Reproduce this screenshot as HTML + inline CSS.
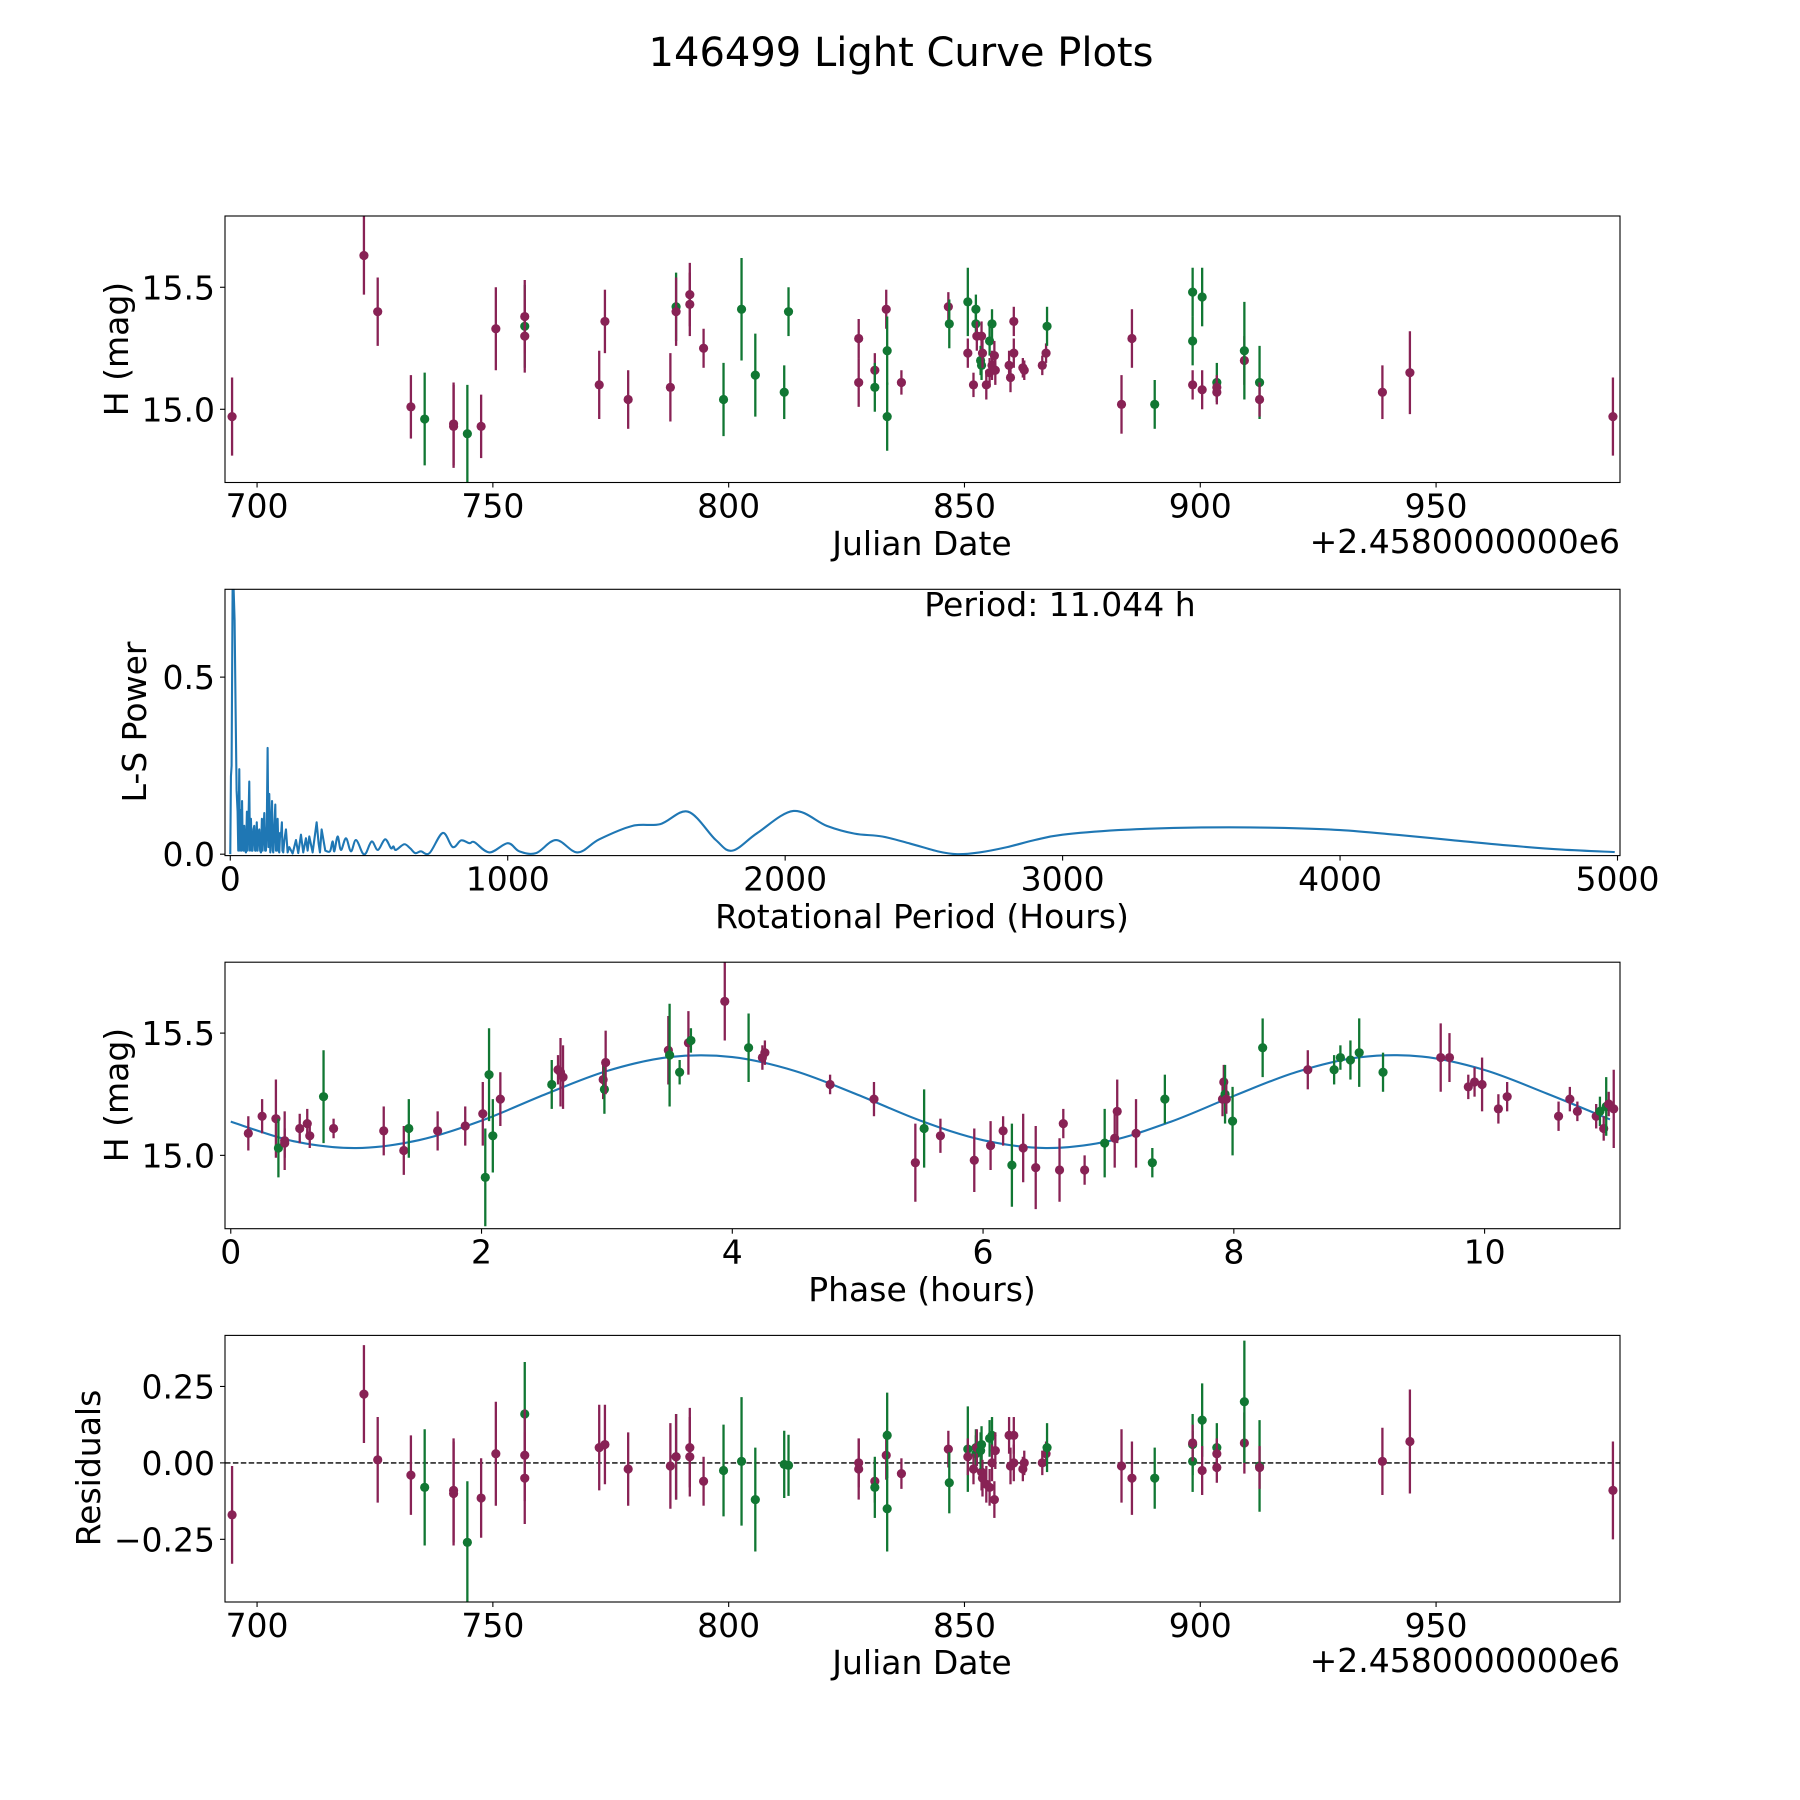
<!DOCTYPE html>
<html><head><meta charset="utf-8"><style>
html,body{margin:0;padding:0;background:#fff;}
svg{display:block;font-family:"DejaVu Sans","Liberation Sans",sans-serif;}
</style></head><body>
<svg id="fig" width="1800" height="1800" viewBox="0 0 1800 1800" xmlns="http://www.w3.org/2000/svg">
<rect width="1800" height="1800" fill="#fff"/>
<text x="901" y="66" font-size="40" text-anchor="middle">146499 Light Curve Plots</text>
</svg>
<script>
// ---- Light curve data (Julian date offset from 2458000) ----
const jd = [694.7,722.66,725.58,732.62,735.54,741.67,741.67,744.59,747.51,750.63,756.76,756.76,756.76,772.55,773.76,778.69,787.64,788.85,788.85,791.76,791.76,794.68,798.91,802.73,805.65,811.78,812.69,827.57,827.57,830.99,830.99,833.41,833.61,833.61,836.63,846.58,846.78,850.71,850.71,852.42,852.42,851.91,852.62,853.62,853.42,853.62,853.82,854.63,855.33,855.84,855.33,855.84,856.34,856.54,859.46,859.76,860.46,860.46,862.38,862.68,866.50,867.30,867.51,883.30,885.51,890.34,898.38,898.38,898.38,900.40,900.40,903.51,903.51,903.51,909.35,909.35,912.57,912.57,938.62,944.45,987.50];
const mag = [14.97,15.63,15.40,15.01,14.96,14.93,14.94,14.90,14.93,15.33,15.34,15.38,15.30,15.10,15.36,15.04,15.09,15.42,15.40,15.47,15.43,15.25,15.04,15.41,15.14,15.07,15.40,15.29,15.11,15.16,15.09,15.41,15.24,14.97,15.11,15.42,15.35,15.44,15.23,15.41,15.35,15.10,15.30,15.30,15.20,15.18,15.23,15.10,15.28,15.35,15.15,15.18,15.22,15.16,15.18,15.13,15.36,15.23,15.17,15.16,15.18,15.23,15.34,15.02,15.29,15.02,15.28,15.48,15.10,15.46,15.08,15.11,15.09,15.07,15.20,15.24,15.11,15.04,15.07,15.15,14.97];
const magErr = [0.16,0.16,0.14,0.13,0.19,0.17,0.17,0.20,0.13,0.17,0.17,0.15,0.15,0.14,0.13,0.12,0.14,0.14,0.14,0.13,0.13,0.08,0.15,0.21,0.17,0.11,0.10,0.08,0.10,0.07,0.10,0.08,0.14,0.14,0.05,0.06,0.10,0.14,0.06,0.06,0.06,0.05,0.06,0.06,0.06,0.06,0.06,0.06,0.06,0.06,0.06,0.06,0.06,0.06,0.06,0.06,0.06,0.06,0.04,0.04,0.04,0.04,0.08,0.12,0.12,0.10,0.10,0.10,0.06,0.12,0.08,0.08,0.05,0.05,0.10,0.20,0.15,0.07,0.11,0.17,0.16];
const band = ["P","P","P","P","G","P","P","G","P","P","G","P","P","P","P","P","P","G","P","P","P","P","G","G","G","G","G","P","P","P","G","P","G","G","P","P","G","G","P","G","G","P","P","P","G","G","P","P","G","G","P","P","P","P","P","P","P","P","P","P","P","P","G","P","P","G","G","G","P","G","P","G","P","P","P","G","G","P","P","P","P"];
const resid = [-0.17,0.225,0.01,-0.04,-0.08,-0.09,-0.10,-0.26,-0.115,0.03,0.16,0.025,-0.05,0.05,0.06,-0.02,-0.01,0.02,0.02,0.05,0.02,-0.06,-0.025,0.005,-0.12,-0.005,-0.008,0.0,-0.02,-0.06,-0.08,0.025,0.09,-0.15,-0.035,0.045,-0.065,0.045,0.02,0.05,0.03,-0.02,0.05,-0.03,0.04,0.06,-0.05,-0.07,0.08,0.09,-0.08,0.0,-0.12,0.04,0.09,-0.01,0.0,0.09,-0.02,0.0,0.0,0.03,0.05,-0.01,-0.05,-0.05,0.06,0.005,0.065,0.14,-0.025,0.05,0.03,-0.015,0.065,0.2,-0.01,-0.015,0.005,0.07,-0.09];

// ---- Periodogram ----
const lsPeriod = [0,2.4,4.8,8.4,12,15.6,19.2,22.8,26.4,28.8,32.5,34.9,38.5,40.5,42.5,44.5,47.5,50.5,53.5,56.5,60,62.5,65.5,68.5,70.9,74.5,77.5,80.5,83.5,86.5,89.5,92.5,95.5,98.5,101.5,104.6,107.6,110.6,114,116.5,119.5,122.6,125.6,128.6,131.6,134.6,137.6,140.6,144.2,146.6,150.5,153,155,158,162.3,164.5,167,170.7,173.7,176.7,179.7,182.7,186,188,191,195,200.7,206.7,212.7,224.8,236.8,245,254.8,263,272.8,278.8,284.8,296.9,311.3,318.5,323.3,329.3,342.5,359.4,369,375,387,399,417,435,453,477,489,510,532,558,579,588,597,627,648,667,687,718,766,802,832,862,880,934,1000,1042,1102,1174,1252,1330,1450,1550,1650,1750,1810,1900,2030,2150,2250,2350,2450,2550,2620,2700,2800,2900,3000,3200,3400,3600,3800,4000,4200,4400,4600,4800,4990];
const lsPower = [0,0.22,0.25,0.75,0.75,0.66,0.41,0.18,0.12,0.01,0.24,0.01,0.125,0.01,0.15,0.04,0.01,0.08,0.01,0.005,0.12,0.01,0.09,0.205,0.01,0.10,0.01,0.01,0.07,0.08,0.01,0.01,0.09,0.01,0.06,0.07,0.01,0.005,0.10,0.01,0.06,0.116,0.01,0.01,0.08,0.30,0.02,0.17,0.005,0.05,0.15,0.01,0.005,0.06,0.14,0.01,0.01,0.10,0.01,0.005,0.06,0.05,0.09,0.01,0.005,0.04,0.07,0.005,0.02,0.002,0.04,0.003,0.055,0.005,0.045,0.01,0.05,0.005,0.09,0.03,0.005,0.07,0.01,0.008,0.036,0.008,0.05,0.012,0.045,0.008,0.04,0.003,0.003,0.036,0.012,0.042,0.017,0.022,0.012,0.028,0.017,0.003,0.008,0.003,0.06,0.02,0.039,0.031,0.034,0.005,0.031,0.008,0.003,0.04,0.005,0.042,0.08,0.085,0.12,0.04,0.01,0.06,0.122,0.08,0.058,0.05,0.03,0.008,0.0,0.005,0.02,0.04,0.055,0.068,0.074,0.076,0.074,0.068,0.055,0.04,0.025,0.013,0.006];

// ---- Phased data ----
const phase = [0.14,0.25,0.36,0.38,0.43,0.43,0.55,0.61,0.63,0.74,0.82,1.22,1.38,1.42,1.65,1.87,2.01,2.03,2.06,2.09,2.15,2.56,2.61,2.63,2.65,2.97,2.98,2.99,3.49,3.50,3.58,3.65,3.67,3.94,4.13,4.24,4.26,4.78,5.13,5.46,5.53,5.66,5.93,6.06,6.16,6.23,6.32,6.42,6.61,6.64,6.81,6.97,7.05,7.07,7.22,7.35,7.45,7.91,7.92,7.93,7.94,7.99,8.23,8.59,8.80,8.85,8.93,9.00,9.19,9.65,9.72,9.87,9.92,9.98,10.11,10.18,10.59,10.68,10.74,10.89,10.92,10.95,10.97,10.99,11.03];
const phaseMag = [15.09,15.16,15.15,15.03,15.06,15.05,15.11,15.13,15.08,15.24,15.11,15.10,15.02,15.11,15.10,15.12,15.17,14.91,15.33,15.08,15.23,15.29,15.35,15.34,15.32,15.31,15.27,15.38,15.43,15.41,15.34,15.46,15.47,15.63,15.44,15.40,15.42,15.29,15.23,14.97,15.11,15.08,14.98,15.04,15.10,14.96,15.03,14.95,14.94,15.13,14.94,15.05,15.07,15.18,15.09,14.97,15.23,15.23,15.30,15.25,15.23,15.14,15.44,15.35,15.35,15.40,15.39,15.42,15.34,15.40,15.40,15.28,15.30,15.29,15.19,15.24,15.16,15.23,15.18,15.16,15.18,15.11,15.20,15.21,15.19];
const phaseErr = [0.07,0.07,0.16,0.12,0.12,0.06,0.06,0.06,0.05,0.19,0.04,0.10,0.10,0.12,0.08,0.08,0.13,0.20,0.19,0.15,0.11,0.10,0.06,0.14,0.13,0.08,0.10,0.13,0.14,0.21,0.05,0.13,0.05,0.16,0.14,0.05,0.05,0.04,0.07,0.16,0.16,0.07,0.13,0.10,0.06,0.17,0.14,0.17,0.13,0.06,0.06,0.14,0.12,0.13,0.14,0.06,0.10,0.07,0.07,0.12,0.06,0.14,0.12,0.08,0.06,0.05,0.08,0.14,0.08,0.14,0.10,0.05,0.06,0.11,0.06,0.06,0.06,0.05,0.04,0.05,0.06,0.05,0.12,0.05,0.16];
const phaseBand = ["P","P","P","G","P","P","P","P","P","G","P","P","P","G","P","P","P","G","G","G","P","G","P","P","P","P","G","P","P","G","G","P","G","P","G","P","P","P","P","P","G","P","P","P","P","G","P","P","P","P","P","G","P","P","P","G","G","P","P","G","P","G","G","P","G","G","G","G","G","P","P","P","P","P","P","P","P","P","P","P","G","P","G","P","P"];
const modelPhase = [0,0.5,1,1.5,2,2.5,3,3.5,4,4.5,5,5.5,6,6.5,7,7.5,8,8.5,9,9.5,10,10.5,11];
const modelMag = [15.138,15.058,15.030,15.062,15.142,15.248,15.345,15.402,15.402,15.345,15.248,15.142,15.062,15.030,15.058,15.138,15.243,15.341,15.401,15.404,15.349,15.252,15.147];

// ---- Tick labels ----
const jdTicks = [700,750,800,850,900,950];
const magTicks = [15.0,15.5];
const lsXTicks = [0,1000,2000,3000,4000,5000];
const lsYTicks = [0.0,0.5];
const phaseTicks = [0,2,4,6,8,10];
const residTicks = [-0.25,0,0.25];
const residTickLabels = ["\u22120.25","0.00","0.25"];

const NS = "http://www.w3.org/2000/svg";
const svg = document.getElementById('fig');
const COL = {P:"#882255", G:"#117733"};
function mk(tag, attrs, parent){
  const e = document.createElementNS(NS, tag);
  for (const k in attrs) e.setAttribute(k, attrs[k]);
  (parent||svg).appendChild(e);
  return e;
}
function axes(y0,y1,xd,yd){
  const x0=225,x1=1620;
  return {x0,x1,y0,y1,
    sx:v=>x0+(v-xd[0])/(xd[1]-xd[0])*(x1-x0),
    sy:v=>y1-(v-yd[0])/(yd[1]-yd[0])*(y1-y0)};
}
const A1 = axes(216,482.5,[693.2,989.0],[14.70,15.792]);
const A2 = axes(589.3,855.6,[-19,5009],[-0.004,0.748]);
const A3 = axes(962.2,1228.7,[-0.046,11.08],[14.70,15.79]);
const A4 = axes(1335.4,1602,[693.2,989.0],[-0.455,0.417]);

function frame(A,name){
  const r = mk('rect',{x:A.x0,y:A.y0,width:A.x1-A.x0,height:A.y1-A.y0,fill:'none',stroke:'#000','stroke-width':1.1});
  
  
}
function xticks(A,vals,labels,name){
  const g = mk('g',{});
  
  
  vals.forEach((v,i)=>{
    const x=A.sx(v);
    mk('line',{x1:x,x2:x,y1:A.y1,y2:A.y1+5,stroke:'#000','stroke-width':1.1},g);
    const t = mk('text',{x:x,y:A.y1+35,'font-size':33,'text-anchor':'middle'},g);
    t.textContent = labels[i];
    
    
  });
}
function yticks(A,vals,labels,name){
  const g = mk('g',{});
  
  
  vals.forEach((v,i)=>{
    const y=A.sy(v);
    mk('line',{x1:A.x0-5,x2:A.x0,y1:y,y2:y,stroke:'#000','stroke-width':1.1},g);
    const t = mk('text',{x:A.x0-10,y:y+12,'font-size':33,'text-anchor':'end'},g);
    t.textContent = labels[i];
    
    
  });
}
function label(txt,x,y,rot,name,anchor,size){
  const t = mk('text',{x:x,y:y,'font-size':size||33,'text-anchor':anchor||'middle'});
  if(rot) t.setAttribute('transform','rotate(-90 '+x+' '+y+')');
  t.textContent = txt;
  
  
}
function clip(A,id){
  const d = mk('defs',{});
  const c = mk('clipPath',{id:id},d);
  mk('rect',{x:A.x0,y:A.y0,width:A.x1-A.x0,height:A.y1-A.y0},c);
}
function errPoints(A,xs,ys,es,bs,name,clipId){
  const g = mk('g',{'clip-path':'url(#'+clipId+')'});
  
  
  xs.forEach((xv,i)=>{
    const x=A.sx(xv), y=A.sy(ys[i]), c=COL[bs[i]];
    const l = mk('line',{x1:x,x2:x,y1:A.sy(ys[i]+es[i]),y2:A.sy(ys[i]-es[i]),stroke:c,'stroke-width':2.3},g);
    
    
    const p = mk('circle',{cx:x,cy:y,r:4.6,fill:c},g);
    
    
  });
}
function cr(pts){ // catmull-rom path
  let d='M'+pts[0][0]+','+pts[0][1];
  for(let i=0;i<pts.length-1;i++){
    const p0=pts[Math.max(0,i-1)],p1=pts[i],p2=pts[i+1],p3=pts[Math.min(pts.length-1,i+2)];
    const c1=[p1[0]+(p2[0]-p0[0])/6,p1[1]+(p2[1]-p0[1])/6];
    const c2=[p2[0]-(p3[0]-p1[0])/6,p2[1]-(p3[1]-p1[1])/6];
    d+=' C'+c1[0]+','+c1[1]+' '+c2[0]+','+c2[1]+' '+p2[0]+','+p2[1];
  }
  return d;
}

// Panel 1
clip(A1,'c1');
errPoints(A1,jd,mag,magErr,band,'lightcurve-points','c1');
frame(A1,'lightcurve-axes');
xticks(A1,jdTicks,jdTicks.map(String),'lightcurve');
yticks(A1,magTicks,magTicks.map(v=>v.toFixed(1)),'lightcurve');
label('Julian Date',922,555,false,'lightcurve-x-axis-title');
label('+2.4580000000e6',1620,553,false,'lightcurve-x-offset','end');
label('H (mag)',128,349,true,'lightcurve-y-axis-title');

// Panel 2
clip(A2,'c2');
{
  const pts = lsPeriod.map((p,i)=>[A2.sx(p),A2.sy(lsPower[i])]);
  let split = lsPeriod.findIndex(p=>p>=342);
  let d = 'M'+pts[0][0]+','+pts[0][1];
  for(let i=1;i<=split;i++) d+=' L'+pts[i][0]+','+pts[i][1];
  const rest = cr(pts.slice(split));
  d += ' ' + rest.replace(/^M[^ ]+/,'');
  const path = mk('path',{d:d,fill:'none',stroke:'#1f77b4','stroke-width':2.1,'stroke-linejoin':'round','clip-path':'url(#c2)'});
  
  
}
frame(A2,'periodogram-axes');
xticks(A2,lsXTicks,lsXTicks.map(String),'periodogram');
yticks(A2,lsYTicks,lsYTicks.map(v=>v.toFixed(1)),'periodogram');
label('Rotational Period (Hours)',922,928,false,'periodogram-x-axis-title');
label('L-S Power',146,722,true,'periodogram-y-axis-title');
label('Period: 11.044 h',1060,616,false,'period-annotation');

// Panel 3
clip(A3,'c3');
{
  const pts = modelPhase.map((p,i)=>[A3.sx(p),A3.sy(modelMag[i])]);
  const path = mk('path',{d:cr(pts),fill:'none',stroke:'#1f77b4','stroke-width':2.1,'clip-path':'url(#c3)'});
  
  
}
errPoints(A3,phase,phaseMag,phaseErr,phaseBand,'phased-points','c3');
frame(A3,'phase-axes');
xticks(A3,phaseTicks,phaseTicks.map(String),'phase');
yticks(A3,magTicks,magTicks.map(v=>v.toFixed(1)),'phase');
label('Phase (hours)',922,1301,false,'phase-x-axis-title');
label('H (mag)',128,1095,true,'phase-y-axis-title');

// Panel 4
clip(A4,'c4');
{
  const z = A4.sy(0);
  const l = mk('line',{x1:A4.x0,x2:A4.x1,y1:z,y2:z,stroke:'#000','stroke-width':1.4,'stroke-dasharray':'5.5,2.4'});
  
  
}
errPoints(A4,jd,resid,magErr,band,'residual-points','c4');
frame(A4,'residual-axes');
xticks(A4,jdTicks,jdTicks.map(String),'residual');
yticks(A4,residTicks,residTickLabels,'residual');
label('Julian Date',922,1674,false,'residual-x-axis-title');
label('+2.4580000000e6',1620,1672,false,'residual-x-offset','end');
label('Residuals',100,1468,true,'residual-y-axis-title');
</script>
</body></html>
